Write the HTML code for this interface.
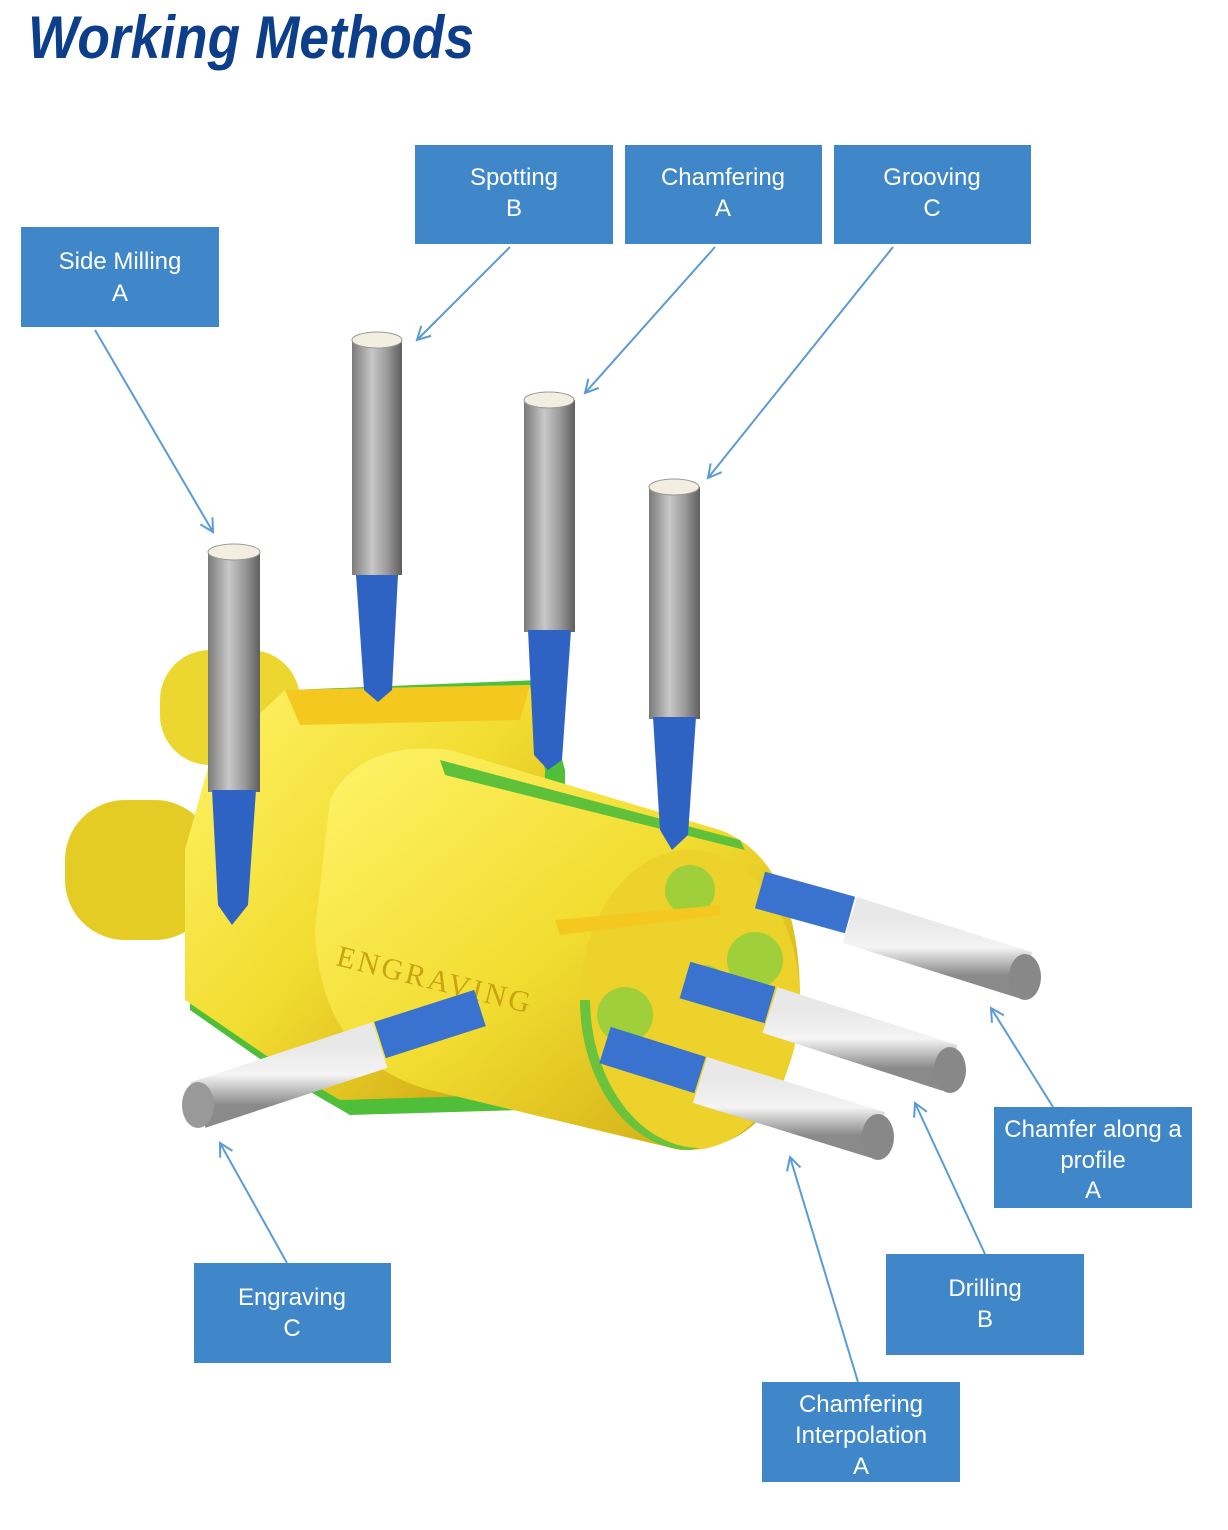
<!DOCTYPE html>
<html><head><meta charset="utf-8"><style>
html,body{margin:0;padding:0;background:#fff;}
svg{display:block}
</style></head><body>
<svg width="1228" height="1530" viewBox="0 0 1228 1530" xmlns="http://www.w3.org/2000/svg">
<defs>
<linearGradient id="gy" x1="0" x2="1" y1="0" y2="0">
<stop offset="0" stop-color="#7a7a7a"/><stop offset="0.4" stop-color="#c8c8c8"/><stop offset="0.7" stop-color="#9a9a9a"/><stop offset="1" stop-color="#5e5e5e"/></linearGradient>
<linearGradient id="gh" x1="0" x2="0" y1="0" y2="1">
<stop offset="0" stop-color="#e8e8e8"/><stop offset="0.5" stop-color="#f4f4f4"/><stop offset="1" stop-color="#8a8a8a"/></linearGradient>
<linearGradient id="yel" x1="0" x2="1" y1="0" y2="1">
<stop offset="0" stop-color="#fff46a"/><stop offset="0.5" stop-color="#f2dc30"/><stop offset="1" stop-color="#c9a10e"/></linearGradient>
<marker id="ar" markerWidth="16" markerHeight="16" refX="14" refY="8" orient="auto" markerUnits="userSpaceOnUse">
<path d="M1,1 L14,8 L1,15" fill="none" stroke="#5b9bd5" stroke-width="2"/></marker>
</defs>

<text x="28" y="58" font-family="Liberation Sans, sans-serif" font-weight="bold" font-style="italic" font-size="60" fill="#0c3e8a" textLength="446" lengthAdjust="spacingAndGlyphs">Working Methods</text>

<rect x="160" y="650" width="140" height="115" rx="50" fill="#ecd630"/>
<rect x="65" y="800" width="150" height="140" rx="60" fill="#e5cc25"/>
<polygon points="190,850 215,760 290,690 540,680 565,770 565,1030 520,1110 350,1115 290,1080 190,1010" fill="#4fbf3a"/>
<polygon points="185,850 210,760 285,690 530,685 545,770 540,1020 510,1095 340,1100 280,1065 185,1000" fill="url(#yel)"/>
<polygon points="285,690 530,685 520,720 300,725" fill="#f5c820"/>
<path d="M330,800 Q360,740 450,750 L720,830 Q800,860 800,1000 Q790,1150 680,1150 L430,1090 Q320,1060 315,930 Z" fill="url(#yel)"/>
<ellipse cx="690" cy="1000" rx="110" ry="150" fill="#ecd22a"/>
<path d="M580,1000 A110,150 0 0 0 690,1150 L700,1148 A110,150 0 0 1 590,1000 Z" fill="#6bc23c"/>
<circle cx="690" cy="890" r="25" fill="#9fcf3a"/>
<circle cx="755" cy="960" r="28" fill="#9fcf3a"/>
<circle cx="625" cy="1015" r="28" fill="#9fcf3a"/>
<circle cx="705" cy="985" r="20" fill="#9fcf3a"/>
<polygon points="440,760 740,840 745,850 445,775" fill="#5fc03a"/>
<polygon points="555,920 720,905 720,915 560,935" fill="#f5c820"/>
<text x="335" y="965" font-family="Liberation Serif, serif" font-size="30" fill="#c9a410" transform="rotate(14 335 965)" letter-spacing="3">ENGRAVING</text>

<g>
<rect x="208" y="552" width="52" height="240" fill="url(#gy)"/><ellipse cx="234" cy="552" rx="26" ry="8" fill="#f3efe0" stroke="#999"/>
<polygon points="212,790 256,790 248,905 232,925 218,905" fill="#2e63c4"/>
<rect x="352" y="340" width="50" height="235" fill="url(#gy)"/><ellipse cx="377" cy="340" rx="25" ry="8" fill="#f3efe0" stroke="#999"/>
<polygon points="356,575 398,575 392,690 378,702 364,690" fill="#2e63c4"/>
<rect x="524" y="400" width="51" height="232" fill="url(#gy)"/><ellipse cx="549" cy="400" rx="25" ry="8" fill="#f3efe0" stroke="#999"/>
<polygon points="528,630 571,630 562,760 548,770 534,755" fill="#2e63c4"/>
<rect x="649" y="487" width="51" height="232" fill="url(#gy)"/><ellipse cx="674" cy="487" rx="25" ry="8" fill="#f3efe0" stroke="#999"/>
<polygon points="653,717 696,717 688,835 672,850 660,830" fill="#2e63c4"/>
</g>
<g stroke-linecap="butt">
<line x1="760" y1="890" x2="850" y2="915" stroke="#3a72d0" stroke-width="38"/>
<line x1="850" y1="920" x2="1025" y2="975" stroke="url(#gh)" stroke-width="48"/>
<ellipse cx="1025" cy="977" rx="16" ry="23" fill="#888"/>
<line x1="685" y1="980" x2="770" y2="1005" stroke="#3a72d0" stroke-width="38"/>
<line x1="770" y1="1010" x2="950" y2="1068" stroke="url(#gh)" stroke-width="48"/>
<ellipse cx="950" cy="1070" rx="16" ry="23" fill="#888"/>
<line x1="605" y1="1045" x2="700" y2="1075" stroke="#3a72d0" stroke-width="38"/>
<line x1="700" y1="1080" x2="878" y2="1135" stroke="url(#gh)" stroke-width="48"/>
<ellipse cx="878" cy="1137" rx="16" ry="23" fill="#888"/>
<line x1="480" y1="1008" x2="380" y2="1040" stroke="#3a72d0" stroke-width="38"/>
<line x1="380" y1="1045" x2="198" y2="1105" stroke="url(#gh)" stroke-width="48"/>
<ellipse cx="198" cy="1105" rx="16" ry="23" fill="#999"/>
</g>

<g stroke="#5b9bd5" stroke-width="2" fill="none" marker-end="url(#ar)">
<line x1="95" y1="330" x2="213" y2="532"/>
<line x1="510" y1="247" x2="417" y2="340"/>
<line x1="715" y1="247" x2="585" y2="393"/>
<line x1="893" y1="247" x2="708" y2="478"/>
<line x1="1053" y1="1107" x2="991" y2="1008"/>
<line x1="985" y1="1254" x2="915" y2="1103"/>
<line x1="858" y1="1382" x2="790" y2="1157"/>
<line x1="287" y1="1263" x2="220" y2="1143"/>
</g>

<g fill="#3f87c8">
<rect x="415" y="145" width="198" height="99"/>
<rect x="625" y="145" width="197" height="99"/>
<rect x="834" y="145" width="197" height="99"/>
<rect x="21" y="227" width="198" height="100"/>
<rect x="994" y="1107" width="198" height="101"/>
<rect x="886" y="1254" width="198" height="101"/>
<rect x="194" y="1263" width="197" height="100"/>
<rect x="762" y="1382" width="198" height="100"/>
</g>
<g font-family="Liberation Sans, sans-serif" font-size="24" fill="#fff" text-anchor="middle">
<text x="514" y="185">Spotting</text><text x="514" y="216">B</text>
<text x="723" y="185">Chamfering</text><text x="723" y="216">A</text>
<text x="932" y="185">Grooving</text><text x="932" y="216">C</text>
<text x="120" y="269">Side Milling</text><text x="120" y="301">A</text>
<text x="1093" y="1137">Chamfer along a</text><text x="1093" y="1168">profile</text><text x="1093" y="1198">A</text>
<text x="985" y="1296">Drilling</text><text x="985" y="1327">B</text>
<text x="292" y="1305">Engraving</text><text x="292" y="1336">C</text>
<text x="861" y="1412">Chamfering</text><text x="861" y="1443">Interpolation</text><text x="861" y="1474">A</text>
</g>
</svg>
</body></html>
